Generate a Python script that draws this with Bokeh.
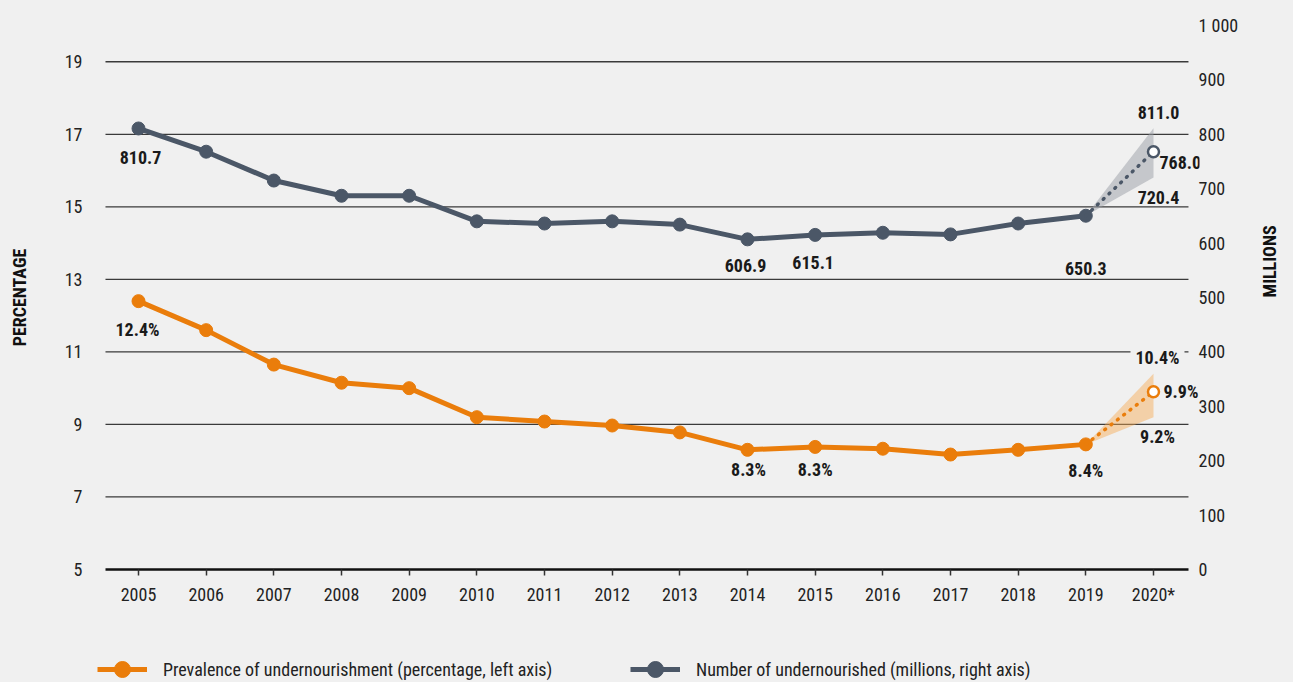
import math
from bokeh.plotting import figure
from bokeh.layouts import column
from bokeh.models import (Range1d, LinearAxis, FixedTicker, Label, Legend, LegendItem)
from bokeh.embed import file_html
from bokeh.resources import INLINE

# ---- data ----
years = [2005, 2006, 2007, 2008, 2009, 2010, 2011, 2012, 2013, 2014, 2015, 2016, 2017, 2018, 2019]
pou = [12.4, 11.6, 10.65, 10.15, 10.0, 9.2, 9.08, 8.97, 8.78, 8.3, 8.38, 8.33, 8.17, 8.3, 8.45]
nou = [810.7, 768.0, 715.0, 687.0, 687.0, 640.0, 636.0, 640.0, 634.0, 606.9, 615.1, 619.0, 616.0, 636.0, 650.3]
proj_year = 2020
pou_proj, pou_low, pou_high = 9.9, 9.2, 10.4
nou_proj, nou_low, nou_high = 768.0, 720.4, 811.0

left_ticks = [5, 7, 9, 11, 13, 15, 17, 19]
right_ticks = [0, 100, 200, 300, 400, 500, 600, 700, 800, 900, 1000]
x_ticks = years + [proj_year]
x_tick_labels = {2020: "2020*"}
right_tick_labels = {1000: "1 000"}
legend_labels = ["Prevalence of undernourishment (percentage, left axis)",
                 "Number of undernourished (millions, right axis)"]

# annotated points: (year, value, text)
pou_labels = [(2005, 12.4, "12.4%"), (2014, 8.3, "8.3%"), (2015, 8.38, "8.3%"), (2019, 8.45, "8.4%"),
              (2020, 10.4, "10.4%"), (2020, 9.9, "9.9%"), (2020, 9.2, "9.2%")]
nou_labels = [(2005, 810.7, "810.7"), (2014, 606.9, "606.9"), (2015, 615.1, "615.1"), (2019, 650.3, "650.3"),
              (2020, 811.0, "811.0"), (2020, 768.0, "768.0"), (2020, 720.4, "720.4")]

# ---- styles ----
pou_offsets = [(-1, -28, "center"), (1, -20, "center"), (0, -23, "center"), (0, -26, "center"),
               (4, 16, "center"), (10, 0, "left"), (4, -19, "center")]
nou_offsets = [(2, -29, "center"), (-2, -26, "center"), (-2, -28, "center"), (0, -53, "center"),
               (5, 16, "center"), (6, -11, "left"), (5, -20, "center")]

FONT = "Roboto Condensed, Roboto"
FS = "18px"
BG = "#f0f0f0"
ORANGE = "#ea7d0b"
GREY = "#4b5767"
LW = 5
XS, XE = 2004.394, 2020.680      # plotting frame
X0, X1 = 2004.512, 2020.517      # extent of grid lines / x axis line

p = figure(width=1293, height=640, output_backend="svg", toolbar_location=None,
           x_range=Range1d(XS, XE), y_range=Range1d(5, 20),
           min_border_left=97, min_border_right=94, min_border_top=25, min_border_bottom=71)
p.extra_y_ranges = {"right": Range1d(0, 1000)}
p.background_fill_color = BG
p.border_fill_color = BG
p.outline_line_color = None
p.xgrid.visible = False
p.ygrid.visible = False

# left axis
la = p.yaxis[0]
la.ticker = FixedTicker(ticks=left_ticks)
la.axis_line_color = None
la.major_tick_line_color = None
la.minor_tick_line_color = None
la.major_label_standoff = 9
la.major_label_text_font = FONT
la.major_label_text_font_size = FS
la.major_label_text_color = "#222222"
la.axis_label = "PERCENTAGE"
la.axis_label_text_font = FONT
la.axis_label_text_font_style = "bold"
la.axis_label_text_font_size = FS
la.axis_label_text_color = "#111111"
la.axis_label_standoff = 32

# horizontal grid lines at the left-axis ticks
p.segment(x0=[X0] * (len(left_ticks) - 1), x1=[X1] * (len(left_ticks) - 1),
          y0=left_ticks[1:], y1=left_ticks[1:], line_color="#3a3a3a", line_width=1.3)

# right axis (tick labels)
ra = LinearAxis(y_range_name="right", ticker=FixedTicker(ticks=right_ticks))
ra.major_label_overrides = right_tick_labels
ra.axis_line_color = None
ra.major_tick_line_color = None
ra.minor_tick_line_color = None
ra.major_label_standoff = -7
ra.major_label_text_font = FONT
ra.major_label_text_font_size = FS
ra.major_label_text_color = "#222222"
p.add_layout(ra, "right")

# right axis title
rt = LinearAxis(y_range_name="right", ticker=FixedTicker(ticks=[]))
rt.axis_line_color = None
rt.major_tick_line_color = None
rt.minor_tick_line_color = None
rt.axis_label = "MILLIONS"
rt.axis_label_text_font = FONT
rt.axis_label_text_font_style = "bold"
rt.axis_label_text_font_size = FS
rt.axis_label_text_color = "#111111"
rt.axis_label_standoff = 28
rt.axis_label_orientation = math.pi / 2
p.add_layout(rt, "right")

# bottom axis
xa = p.xaxis[0]
xa.ticker = FixedTicker(ticks=x_ticks)
xa.bounds = (X0, X1)
xa.major_label_overrides = x_tick_labels
xa.axis_line_color = "#111111"
xa.axis_line_width = 2.5
xa.major_tick_line_color = "#333333"
xa.major_tick_line_width = 1.5
xa.major_tick_in = 0
xa.major_tick_out = 6
xa.minor_tick_line_color = None
xa.major_label_standoff = 8
xa.major_label_text_font = FONT
xa.major_label_text_font_size = FS
xa.major_label_text_color = "#222222"

# projection bands
p.patch([years[-1], proj_year, proj_year], [nou[-1], nou_high, nou_low], y_range_name="right",
        fill_color="#9a9ea6", fill_alpha=0.5, line_color=None)
p.patch([years[-1], proj_year, proj_year], [pou[-1], pou_high, pou_low],
        fill_color="#f7a84f", fill_alpha=0.45, line_color=None)

# main lines
p.line(years, nou, y_range_name="right", line_color=GREY, line_width=LW)
p.scatter(years, nou, y_range_name="right", size=13, fill_color=GREY, line_color=GREY)
p.line(years, pou, line_color=ORANGE, line_width=LW)
p.scatter(years, pou, size=13, fill_color=ORANGE, line_color=ORANGE)

# projections (dotted)
p.line([years[-1], proj_year], [nou[-1], nou_proj], y_range_name="right", line_color=GREY,
       line_width=3.5, line_dash="1 7", line_cap="round")
p.scatter([proj_year], [nou_proj], y_range_name="right", size=11, fill_color="white",
          line_color=GREY, line_width=2.5)
p.line([years[-1], proj_year], [pou[-1], pou_proj], line_color=ORANGE,
       line_width=3.5, line_dash="1 7", line_cap="round")
p.scatter([proj_year], [pou_proj], size=11, fill_color="white", line_color=ORANGE, line_width=2.5)

# labels
for (yr, v, t), (dx, dy, al) in zip(pou_labels, pou_offsets):
    kw = {}
    if t == "10.4%":
        kw = dict(background_fill_color=BG, padding=5)
    p.add_layout(Label(x=yr, y=v, text=t, x_offset=dx, y_offset=dy, text_align=al,
                       text_baseline="middle", text_font=FONT, text_font_style="bold",
                       text_font_size=FS, text_color="#1a1a1a", **kw))
for (yr, v, t), (dx, dy, al) in zip(nou_labels, nou_offsets):
    p.add_layout(Label(x=yr, y=v, y_range_name="right", text=t, x_offset=dx, y_offset=dy,
                       text_align=al, text_baseline="middle", text_font=FONT,
                       text_font_style="bold", text_font_size=FS, text_color="#1a1a1a"))

# ---- legend strip (same series, drawn outside its visible range; only the legend shows) ----
q = figure(width=1293, height=42, output_backend="svg", toolbar_location=None,
           x_range=Range1d(0, 1), y_range=Range1d(0, 1), min_border=0,
           x_axis_location=None, y_axis_location=None)
q.background_fill_color = BG
q.border_fill_color = BG
q.outline_line_color = None
q.grid.visible = False
ql1 = q.line(years, pou, line_color=ORANGE, line_width=LW)
qs1 = q.scatter(years, pou, fill_color=ORANGE, line_color=ORANGE)
ql2 = q.line(years, nou, line_color=GREY, line_width=LW)
qs2 = q.scatter(years, nou, fill_color=GREY, line_color=GREY)

def add_legend(label, rends, loc):
    lg = Legend(items=[LegendItem(label=label, renderers=rends)], location=loc,
                orientation="horizontal", background_fill_alpha=0, border_line_color=None,
                padding=0, margin=0, glyph_width=50, glyph_height=40, label_height=20,
                label_standoff=16, label_text_font=FONT, label_text_font_size=FS,
                label_text_color="#222222")
    q.add_layout(lg, "center")

add_legend(legend_labels[0], [ql1, qs1], (0, -7))
add_legend(legend_labels[1], [ql2, qs2], (533, -7))

layout = column(p, q, spacing=0, styles={"background-color": BG})
open("out.html", "w").write(file_html(layout, INLINE))
